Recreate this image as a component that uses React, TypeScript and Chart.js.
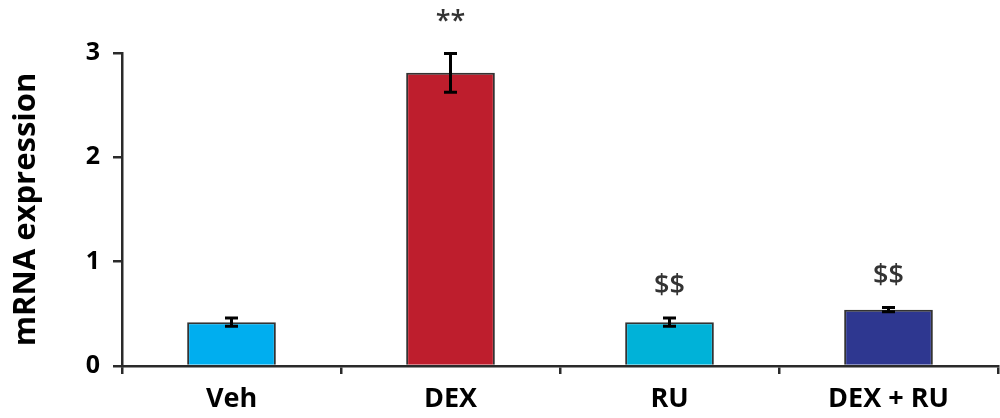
import React, { useEffect, useRef } from "react";
import { Chart, registerables } from "chart.js";

Chart.register(...registerables);

const categories = ["Veh", "DEX", "RU", "DEX + RU"];
const values = [0.42, 2.81, 0.42, 0.54];
const errors = [0.04, 0.185, 0.04, 0.02];
const barColors = ["#00AEEF", "#BE1E2D", "#00B2D8", "#2E3790"];
const annotations = ["", "**", "$$", "$$"];
const yTicks = [0, 1, 2, 3];

const FONT = "'Open Sans', sans-serif";
const AXIS = "#2a2a2a";

const overlayPlugin = {
  id: "overlay",
  afterDatasetsDraw(chart: any) {
    const ctx = chart.ctx;
    const x = chart.scales.x;
    const y = chart.scales.y;
    ctx.save();
    values.forEach((v, i) => {
      const cx = x.getPixelForValue(i);
      const top = y.getPixelForValue(v + errors[i]);
      const bot = y.getPixelForValue(v - errors[i]);
      ctx.strokeStyle = "#000";
      ctx.lineWidth = 3;
      ctx.beginPath();
      ctx.moveTo(cx, top);
      ctx.lineTo(cx, bot);
      ctx.moveTo(cx - 6.5, top);
      ctx.lineTo(cx + 6.5, top);
      ctx.moveTo(cx - 6.5, bot);
      ctx.lineTo(cx + 6.5, bot);
      ctx.stroke();
      if (annotations[i]) {
        ctx.fillStyle = "#333";
        ctx.font = `600 27px ${FONT}`;
        ctx.textAlign = "center";
        ctx.textBaseline = "alphabetic";
        ctx.fillText(annotations[i], cx, top - 24);
      }
    });
    ctx.restore();
  },
};

export default function App() {
  const ref = useRef<HTMLCanvasElement | null>(null);
  useEffect(() => {
    document.body.style.margin = "0";
    const chart = new Chart(ref.current!, {
      type: "bar",
      data: {
        labels: categories,
        datasets: [
          {
            data: values,
            backgroundColor: barColors,
            borderColor: "#333",
            borderWidth: 2,
            barPercentage: 0.405,
            categoryPercentage: 1,
          },
        ],
      },
      options: {
        animation: false,
        responsive: false,
        maintainAspectRatio: false,
        layout: { padding: { top: 53, right: 2, left: 0, bottom: 0 } },
        plugins: { legend: { display: false }, tooltip: { enabled: false } },
        scales: {
          x: {
            afterFit: (s: any) => {
              s.height = 52;
            },
            grid: {
              display: true,
              drawOnChartArea: false,
              offset: true,
              tickLength: 8,
              color: AXIS,
              lineWidth: 2.5,
            },
            border: { display: true, color: AXIS, width: 2.5 },
            ticks: {
              color: "#000",
              font: { family: FONT, size: 27, weight: "bold" },
              padding: 9,
              maxRotation: 0,
            },
          },
          y: {
            min: 0,
            max: 3,
            afterFit: (s: any) => {
              s.width = 122;
            },
            afterBuildTicks: (s: any) => {
              s.ticks = yTicks.map((v) => ({ value: v }));
            },
            grid: {
              display: true,
              drawOnChartArea: false,
              tickLength: 9,
              color: AXIS,
              lineWidth: 2.5,
            },
            border: { display: true, color: AXIS, width: 2.5 },
            ticks: {
              color: "#000",
              font: { family: FONT, size: 25, weight: "bold" },
              padding: 13,
            },
            title: {
              display: true,
              text: "mRNA expression",
              color: "#000",
              font: { family: FONT, size: 31, weight: "bold" },
              padding: { top: 8, bottom: 0 },
            },
          },
        },
      },
      plugins: [overlayPlugin],
    });
    return () => chart.destroy();
  }, []);
  return (
    <div style={{ width: 1000, height: 418 }}>
      <canvas ref={ref} width={1000} height={418} />
    </div>
  );
}
